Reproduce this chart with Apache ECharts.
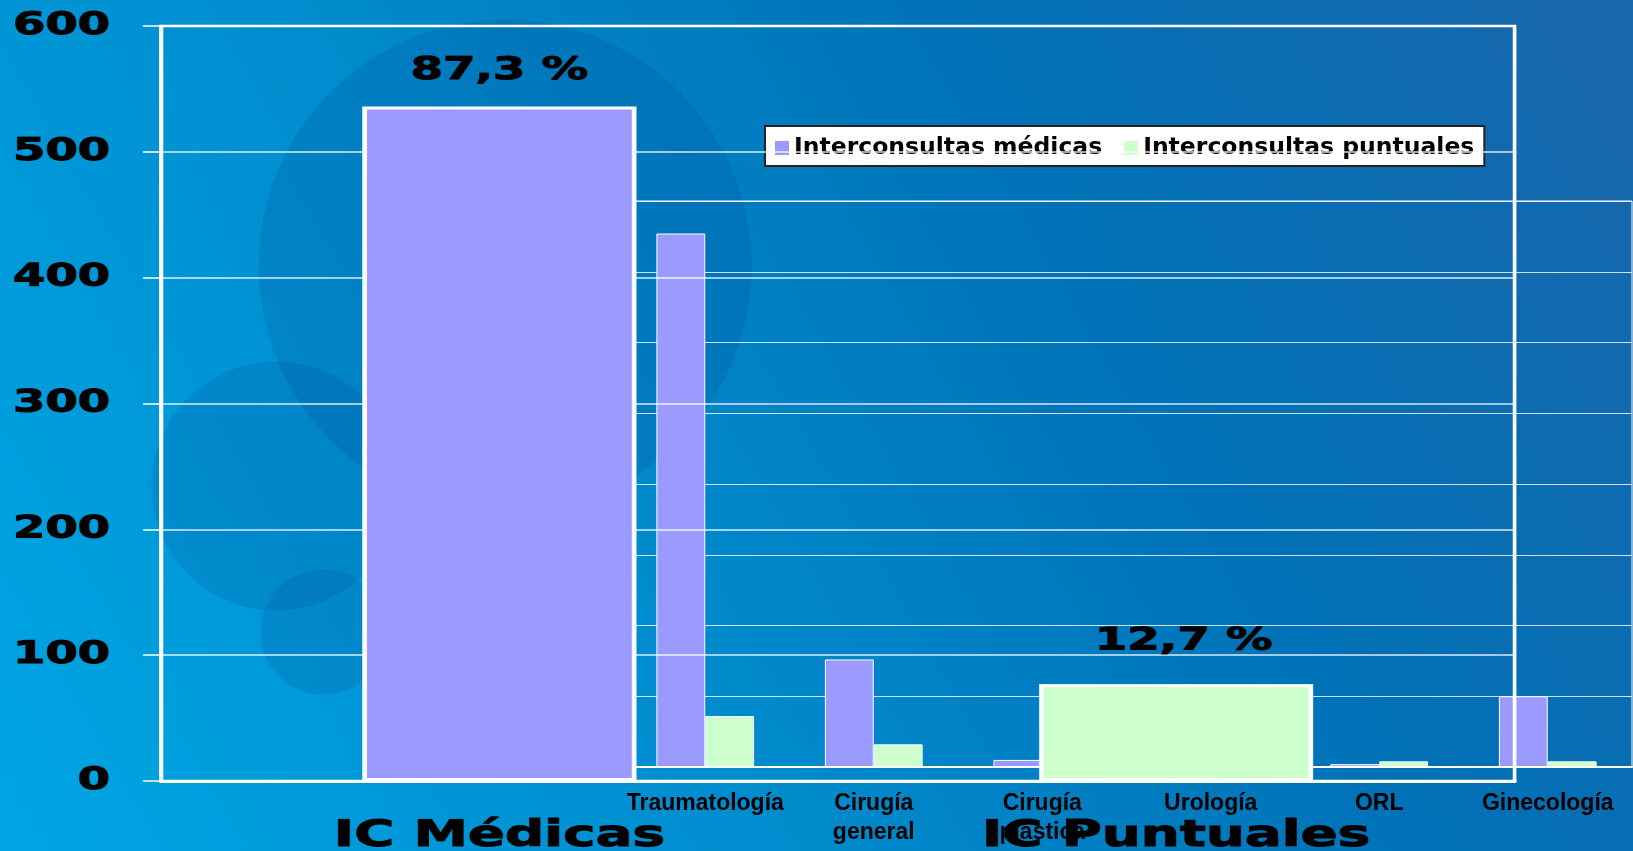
<!DOCTYPE html>
<html>
<head>
<meta charset="utf-8">
<script src="https://cdn.jsdelivr.net/npm/echarts@6/dist/echarts.min.js"></script>
<style>
html, body { margin: 0; padding: 0; }
body {
  width: 1633px; height: 851px; overflow: hidden; position: relative;
  background:
    radial-gradient(circle at 323px 632px, rgba(0,50,130,0.14) 62px, transparent 63px),
    radial-gradient(circle at 276px 486px, rgba(0,50,130,0.14) 124px, transparent 125px),
    radial-gradient(circle at 505px 266px, rgba(0,50,130,0.15) 246px, transparent 247px),
    linear-gradient(60deg, #00a6e4 0%, #008bcd 38%, #0071b6 68%, #1a66aa 100%);
}
#sub { position: absolute; left: 0; top: 0; width: 1633px; height: 851px; }
/* the main chart in the reference is stretched sideways, so draw it narrow and stretch it */
#main { position: absolute; left: 0; top: 0; height: 851px; transform-origin: 0 0; }
</style>
</head>
<body>
<div id="sub"></div>
<div id="main"></div>
<script>
// main chart
const groups = ['IC Médicas', 'IC Puntuales'];
const totals = [536, 77];
const shares = ['87,3 %', '12,7 %'];
const groupColors = ['#9b9bff', '#ccffcc'];

// detail chart behind it
const specialties = ['Traumatología', 'Cirugía general', 'Cirugía plástica', 'Urología', 'ORL', 'Ginecología'];
const medicas = [377, 76, 5, 26, 2, 50];
const puntuales = [36, 16, 5, 12, 4, 4];
const seriesNames = ['Interconsultas médicas', 'Interconsultas puntuales'];

const S = 1.5; // horizontal stretch of the main chart
// the two % labels don't sit at the same spot over their bars
const labelGap = [20, 27];
const labelShift = [0, 5];
let mainDom = document.getElementById('main');
mainDom.style.width = (1633 / S) + 'px';
mainDom.style.transform = 'scaleX(' + S + ')';

let subChart = echarts.init(document.getElementById('sub'));
let mainChart = echarts.init(mainDom, null, {devicePixelRatio: 2});

// heavy black text for the stretched chart
let heavyFont = {fontFamily: 'DejaVu Sans', fontWeight: 'bold', color: '#000', textBorderColor: '#000', textBorderWidth: 1};

let subOption = {
    backgroundColor: 'transparent',
    animation: false,
    legend: {
        data: seriesNames,
        left: 765,
        top: 126,
        padding: [10, 10, 6, 10],
        icon: 'rect',
        itemWidth: 14,
        itemHeight: 14,
        itemGap: 22,
        backgroundColor: '#fff',
        borderColor: '#222',
        borderWidth: 2,
        itemStyle: {borderWidth: 0},
        textStyle: {color: '#000', fontFamily: 'DejaVu Sans', fontWeight: 'bold', fontSize: 23.5}
    },
    grid: {left: 621, right: 1, top: 201, bottom: 84, outerBoundsMode: 'none', show: true, borderColor: '#fff', borderWidth: 1},
    xAxis: {
        type: 'category',
        data: specialties,
        axisLine: {lineStyle: {color: '#fff', width: 2}},
        axisTick: {length: 8, lineStyle: {color: '#fff'}},
        axisLabel: {
            interval: 0,
            color: '#000',
            fontFamily: 'Liberation Sans',
            fontWeight: 'bold',
            fontSize: 23,
            lineHeight: 29,
            margin: 22,
            formatter: function (v) { return v.replace(' ', '\n'); }
        }
    },
    yAxis: {
        type: 'value',
        min: 0,
        max: 400,
        interval: 50,
        axisLabel: {show: false},
        axisLine: {show: false},
        axisTick: {show: false},
        splitLine: {lineStyle: {color: 'rgba(255,255,255,0.8)', width: 1}}
    },
    series: [
        {
            name: seriesNames[0],
            type: 'bar',
            data: medicas,
            barGap: '0%',
            barCategoryGap: '42%',
            itemStyle: {color: groupColors[0], borderColor: '#fff', borderWidth: 1}
        },
        {
            name: seriesNames[1],
            type: 'bar',
            data: puntuales,
            itemStyle: {color: groupColors[1], borderColor: '#fff', borderWidth: 1}
        }
    ]
};

let mainOption = {
    backgroundColor: 'transparent',
    animation: false,
    grid: {
        left: 161 / S, right: (1633 - 1514) / S, top: 26, bottom: 70,
        outerBoundsMode: 'none',
        show: true, borderColor: '#fff', borderWidth: 2.5
    },
    xAxis: {
        type: 'category',
        data: groups,
        axisLine: {lineStyle: {color: '#fff', width: 3}},
        axisTick: {length: 10, lineStyle: {color: '#fff', width: 1}},
        axisLabel: Object.assign({fontSize: 36.5, margin: 37}, heavyFont)
    },
    yAxis: {
        type: 'value',
        min: 0,
        max: 600,
        interval: 100,
        axisLine: {show: true, lineStyle: {color: '#fff', width: 2.5}},
        axisTick: {show: true, length: 12, lineStyle: {color: '#fff', width: 1.5}},
        splitLine: {lineStyle: {color: 'rgba(255,255,255,0.85)', width: 1.5}},
        axisLabel: Object.assign({fontSize: 31, margin: 34}, heavyFont)
    },
    series: [
        {
            type: 'bar',
            data: totals.map(function (v, i) {
                return {
                    value: v,
                    itemStyle: {color: groupColors[i]},
                    label: {distance: labelGap[i], offset: [labelShift[i], 0]}
                };
            }),
            barCategoryGap: '59.5%',
            itemStyle: {borderColor: '#fff', borderWidth: 3},
            label: Object.assign({
                show: true,
                position: 'top',
                fontSize: 31,
                formatter: function (p) { return shares[p.dataIndex]; }
            }, heavyFont)
        }
    ]
};

subChart.setOption(subOption);
mainChart.setOption(mainOption);
</script>
</body>
</html>
